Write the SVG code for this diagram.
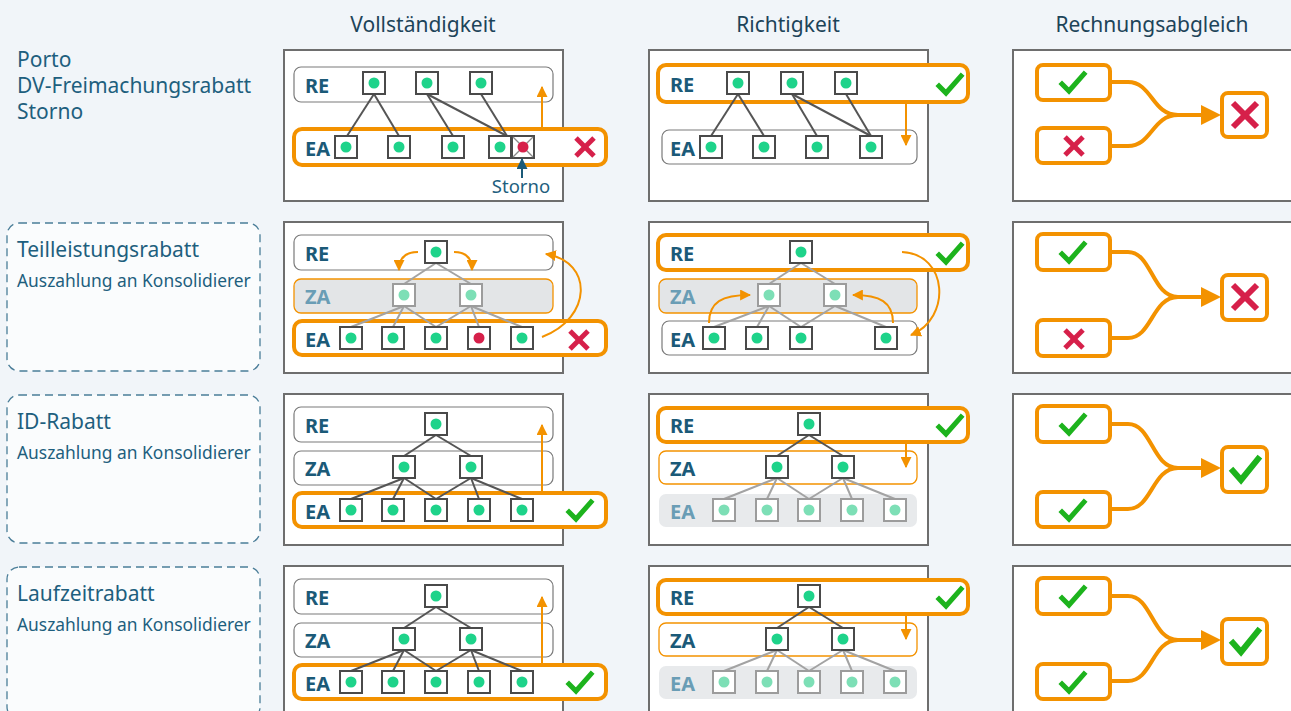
<svg xmlns="http://www.w3.org/2000/svg" xmlns:xlink="http://www.w3.org/1999/xlink" width="1291" height="711" viewBox="0 0 1291 711">
<style>
.t{font-family:"Noto Sans","Open Sans",sans-serif;fill:#1e5f7e}
.h{font-family:"Noto Sans","Open Sans",sans-serif;fill:#1d4459;font-size:21px;text-anchor:middle}
.panel{fill:#fff;stroke:#6e6e6e;stroke-width:2}
.lane{fill:#fff;stroke:#7a7a7a;stroke-width:1.2}
.hl{fill:#fff;stroke:#f39200;stroke-width:4}
.zag{fill:#e3e5e7;stroke:#f39200;stroke-width:1.3}
.zaw{fill:#fff;stroke:#f39200;stroke-width:1.3}
.eag{fill:#e8eaec}
.lbl{font-family:"Noto Sans","Open Sans",sans-serif;font-weight:bold;font-size:20px;fill:#1b5a78}
.lblm{fill:#6a9db5}
.ln{stroke:#555;stroke-width:2;fill:none}
.lnl{stroke:#a3a3a3;stroke-width:2;fill:none}
.oa{stroke:#f39200;stroke-width:2;fill:none}
.ob{stroke:#f39200;stroke-width:4;fill:none}
.obox{fill:#fff;stroke:#f39200;stroke-width:4}
.chk{stroke:#1db31d;stroke-width:5;fill:none;stroke-linecap:square}
.x{stroke:#d6204a;stroke-width:5;stroke-linecap:butt}
.lab{fill:#fafcfd;stroke:#4a7d98;stroke-width:1.3;stroke-dasharray:8 5}
</style>
<defs>
<marker id="ah" viewBox="0 0 10 10" refX="9" refY="5" markerWidth="11" markerHeight="11" markerUnits="userSpaceOnUse" orient="auto"><path d="M0,0 L10,5 L0,10 z" fill="#f39200"/></marker>
<marker id="ahd" viewBox="0 0 10 10" refX="9" refY="5" markerWidth="11" markerHeight="11" markerUnits="userSpaceOnUse" orient="auto"><path d="M0,0 L10,5 L0,10 z" fill="#1b5a78"/></marker>
<g id="n"><rect x="-11" y="-11" width="22" height="22" fill="#fff" stroke="#4a4a4a" stroke-width="2"/><circle r="5.5" fill="#1ed38a"/></g>
<g id="nr"><rect x="-11" y="-11" width="22" height="22" fill="#fff" stroke="#4a4a4a" stroke-width="2"/><circle r="5.5" fill="#d6204a"/></g>
<g id="nf"><rect x="-11" y="-11" width="22" height="22" fill="#fff" stroke="#9c9c9c" stroke-width="2"/><circle r="5.5" fill="#7ddfb6"/></g>
<path id="ck" d="M-11,1 L-4,8 L11,-9" class="chk"/>
<path id="ckb" d="M-12,1 L-4,10 L13,-11" class="chk" style="stroke-width:6"/>
<g id="xx"><line x1="-9" y1="-9" x2="9" y2="9" class="x"/><line x1="9" y1="-9" x2="-9" y2="9" class="x"/></g>
<g id="xb"><line x1="-12" y1="-12" x2="12" y2="12" class="x" style="stroke-width:6"/><line x1="12" y1="-12" x2="-12" y2="12" class="x" style="stroke-width:6"/></g>
</defs>
<rect width="1291" height="711" fill="#f1f5f9"/>

<g id="headers">
<text class="h" x="423" y="32">Vollständigkeit</text>
<text class="h" x="788" y="32">Richtigkeit</text>
<text class="h" x="1152" y="32">Rechnungsabgleich</text>
</g>

<g id="label-row1">
<text class="t" x="17" y="67" font-size="21">Porto</text>
<text class="t" x="17" y="93" font-size="21">DV-Freimachungsrabatt</text>
<text class="t" x="17" y="119" font-size="21">Storno</text>
</g>
<g id="label-row2">
<rect class="lab" x="7" y="223" width="253" height="148" rx="12"/>
<text class="t" x="17" y="257" font-size="21">Teilleistungsrabatt</text>
<text class="t" x="17" y="287" font-size="17.4">Auszahlung an Konsolidierer</text>
</g>
<g id="label-row3">
<rect class="lab" x="7" y="395" width="253" height="148" rx="12"/>
<text class="t" x="17" y="429" font-size="21">ID-Rabatt</text>
<text class="t" x="17" y="459" font-size="17.4">Auszahlung an Konsolidierer</text>
</g>
<g id="label-row4">
<rect class="lab" x="7" y="567" width="253" height="152" rx="12"/>
<text class="t" x="17" y="601" font-size="21">Laufzeitrabatt</text>
<text class="t" x="17" y="631" font-size="17.4">Auszahlung an Konsolidierer</text>
</g>

<!-- Row 1 -->
<g id="r1-voll">
<rect class="panel" x="284" y="50" width="279" height="151"/>
<rect class="lane" x="294" y="67" width="259" height="35" rx="7"/>
<text class="lbl" x="305" y="93">RE</text>
<rect class="hl" x="294" y="129" width="312" height="36" rx="8"/>
<text class="lbl" x="305" y="156">EA</text>
<g class="ln">
<line x1="374" y1="94" x2="347" y2="136"/><line x1="374" y1="94" x2="399" y2="136"/>
<line x1="427" y1="94" x2="453" y2="136"/><line x1="427" y1="94" x2="507" y2="136"/>
<line x1="481" y1="94" x2="507" y2="136"/>
</g>
<use href="#n" x="374" y="83"/><use href="#n" x="427" y="83"/><use href="#n" x="481" y="83"/>
<use href="#n" x="346" y="147"/><use href="#n" x="399" y="147"/><use href="#n" x="453" y="147"/><use href="#n" x="500" y="147"/>
<g id="storno-node">
<rect x="512" y="136" width="22" height="22" fill="#fff" stroke="#4a4a4a" stroke-width="2"/>
<line x1="513" y1="137" x2="533" y2="157" stroke="#8a8a8a" stroke-width="1.2"/><line x1="533" y1="137" x2="513" y2="157" stroke="#8a8a8a" stroke-width="1.2"/>
<circle cx="523" cy="147" r="5.5" fill="#d6204a"/>
</g>
<line x1="522" y1="178" x2="522" y2="159" stroke="#1b5a78" stroke-width="2" marker-end="url(#ahd)"/>
<text class="t" x="521" y="193" font-size="18.5" text-anchor="middle">Storno</text>
<line class="oa" x1="542" y1="129" x2="542" y2="87" marker-end="url(#ah)"/>
<use href="#xx" x="585" y="147"/>
</g>

<g id="r1-richt">
<rect class="panel" x="649" y="50" width="279" height="151"/>
<rect class="hl" x="658" y="65" width="310" height="37" rx="8"/>
<text class="lbl" x="670" y="92">RE</text>
<rect class="lane" x="662" y="130" width="255" height="34" rx="7"/>
<text class="lbl" x="670" y="156">EA</text>
<g class="ln">
<line x1="738" y1="94" x2="711" y2="136"/><line x1="738" y1="94" x2="764" y2="136"/>
<line x1="792" y1="94" x2="817" y2="136"/><line x1="792" y1="94" x2="871" y2="136"/>
<line x1="846" y1="94" x2="871" y2="136"/>
</g>
<use href="#n" x="738" y="83"/><use href="#n" x="792" y="83"/><use href="#n" x="846" y="83"/>
<use href="#n" x="711" y="147"/><use href="#n" x="764" y="147"/><use href="#n" x="817" y="147"/><use href="#n" x="871" y="147"/>
<line class="oa" x1="906" y1="102" x2="906" y2="145" marker-end="url(#ah)"/>
<use href="#ck" x="950" y="85"/>
</g>

<g id="r1-abgl">
<rect class="panel" x="1013" y="50" width="282" height="151"/>
<g class="ob"><path d="M1110,82 H1128 C1152,82 1152,115 1178,115"/><path d="M1110,146 H1128 C1152,146 1152,115 1178,115"/><path d="M1176,115 H1204"/></g>
<polygon points="1201,105 1221,115 1201,125" fill="#f39200"/>
<rect class="obox" x="1037" y="65" width="73" height="35" rx="6"/>
<rect class="obox" x="1037" y="128" width="73" height="35" rx="6"/>
<rect class="obox" x="1222" y="93" width="45" height="44" rx="6"/>
<use href="#ck" x="1073" y="83"/>
<use href="#xx" x="1074" y="146"/>
<use href="#xb" x="1245" y="115"/>
</g>

<!-- Row 2 -->
<g id="r2-voll">
<rect class="panel" x="284" y="222" width="279" height="151"/>
<rect class="lane" x="294" y="235" width="259" height="35" rx="7"/>
<text class="lbl" x="305" y="261">RE</text>
<rect class="zag" x="294" y="279" width="259" height="34" rx="7"/>
<text class="lbl lblm" x="305" y="304">ZA</text>
<rect class="hl" x="294" y="321" width="312" height="34" rx="8"/>
<text class="lbl" x="305" y="347">EA</text>
<g class="lnl">
<line x1="436" y1="263" x2="404" y2="284"/><line x1="436" y1="263" x2="471" y2="284"/>
<line x1="404" y1="306" x2="351" y2="327"/><line x1="404" y1="306" x2="393" y2="327"/><line x1="404" y1="306" x2="436" y2="327"/>
<line x1="471" y1="306" x2="436" y2="327"/><line x1="471" y1="306" x2="479" y2="327"/><line x1="471" y1="306" x2="522" y2="327"/>
</g>
<use href="#n" x="436" y="252"/>
<use href="#nf" x="404" y="295"/><use href="#nf" x="471" y="295"/>
<use href="#n" x="351" y="338"/><use href="#n" x="393" y="338"/><use href="#n" x="436" y="338"/><use href="#nr" x="479" y="338"/><use href="#n" x="522" y="338"/>
<path class="oa" d="M418,252 C405,252 399,259 399,270" marker-end="url(#ah)"/>
<path class="oa" d="M454,252 C467,252 472,259 472,270" marker-end="url(#ah)"/>
<path class="oa" d="M542,337 C592,318 594,262 546,254" marker-end="url(#ah)"/>
<use href="#xx" x="579" y="340"/>
</g>

<g id="r2-richt">
<rect class="panel" x="649" y="222" width="279" height="151"/>
<rect class="hl" x="658" y="235" width="310" height="35" rx="8"/>
<text class="lbl" x="670" y="261">RE</text>
<rect class="zag" x="659" y="279" width="258" height="34" rx="7"/>
<text class="lbl lblm" x="670" y="304">ZA</text>
<rect class="lane" x="662" y="321" width="255" height="34" rx="7"/>
<text class="lbl" x="670" y="347">EA</text>
<g class="lnl">
<line x1="801" y1="263" x2="769" y2="284"/><line x1="801" y1="263" x2="835" y2="284"/>
<line x1="769" y1="306" x2="714" y2="327"/><line x1="769" y1="306" x2="757" y2="327"/><line x1="769" y1="306" x2="801" y2="327"/>
<line x1="835" y1="306" x2="801" y2="327"/><line x1="835" y1="306" x2="886" y2="327"/>
</g>
<use href="#n" x="801" y="252"/>
<use href="#nf" x="769" y="295"/><use href="#nf" x="835" y="295"/>
<use href="#n" x="714" y="338"/><use href="#n" x="757" y="338"/><use href="#n" x="801" y="338"/><use href="#n" x="886" y="338"/>
<path class="oa" d="M709,323 C709,302 722,295 750,295" marker-end="url(#ah)"/>
<path class="oa" d="M893,323 C893,302 880,295 853,295" marker-end="url(#ah)"/>
<path class="oa" d="M902,252 C948,254 952,318 911,335" marker-end="url(#ah)"/>
<use href="#ck" x="950" y="254"/>
</g>

<g id="r2-abgl">
<rect class="panel" x="1013" y="222" width="282" height="151"/>
<g class="ob"><path d="M1110,252 H1128 C1152,252 1152,297 1178,297"/><path d="M1110,338 H1128 C1152,338 1152,297 1178,297"/><path d="M1176,297 H1204"/></g>
<polygon points="1201,287 1221,297 1201,307" fill="#f39200"/>
<rect class="obox" x="1037" y="234" width="73" height="36" rx="6"/>
<rect class="obox" x="1037" y="320" width="73" height="36" rx="6"/>
<rect class="obox" x="1222" y="275" width="45" height="45" rx="6"/>
<use href="#ck" x="1073" y="253"/>
<use href="#xx" x="1074" y="339"/>
<use href="#xb" x="1245" y="297"/>
</g>

<!-- Row 3 -->
<g id="r3-voll">
<rect class="panel" x="284" y="394" width="279" height="151"/>
<rect class="lane" x="294" y="407" width="259" height="35" rx="7"/>
<text class="lbl" x="305" y="433">RE</text>
<rect class="lane" x="294" y="451" width="259" height="34" rx="7"/>
<text class="lbl" x="305" y="476">ZA</text>
<rect class="hl" x="294" y="493" width="312" height="34" rx="8"/>
<text class="lbl" x="305" y="519">EA</text>
<g class="ln">
<line x1="436" y1="435" x2="404" y2="456"/><line x1="436" y1="435" x2="471" y2="456"/>
<line x1="404" y1="478" x2="351" y2="499"/><line x1="404" y1="478" x2="393" y2="499"/><line x1="404" y1="478" x2="436" y2="499"/>
<line x1="471" y1="478" x2="436" y2="499"/><line x1="471" y1="478" x2="479" y2="499"/><line x1="471" y1="478" x2="522" y2="499"/>
</g>
<use href="#n" x="436" y="424"/>
<use href="#n" x="404" y="467"/><use href="#n" x="471" y="467"/>
<use href="#n" x="351" y="510"/><use href="#n" x="393" y="510"/><use href="#n" x="436" y="510"/><use href="#n" x="479" y="510"/><use href="#n" x="522" y="510"/>
<line class="oa" x1="542" y1="493" x2="542" y2="425" marker-end="url(#ah)"/>
<use href="#ck" x="580" y="511"/>
</g>

<g id="r3-richt">
<rect class="panel" x="649" y="394" width="279" height="151"/>
<rect class="hl" x="658" y="408" width="310" height="34" rx="8"/>
<text class="lbl" x="670" y="433">RE</text>
<rect class="zaw" x="659" y="451" width="258" height="33" rx="7"/>
<text class="lbl" x="670" y="476">ZA</text>
<rect class="eag" x="659" y="494" width="258" height="33" rx="7"/>
<text class="lbl lblm" x="670" y="519">EA</text>
<g class="ln">
<line x1="809" y1="435" x2="777" y2="456"/><line x1="809" y1="435" x2="843" y2="456"/>
</g>
<g class="lnl">
<line x1="777" y1="478" x2="724" y2="499"/><line x1="777" y1="478" x2="767" y2="499"/><line x1="777" y1="478" x2="809" y2="499"/>
<line x1="843" y1="478" x2="809" y2="499"/><line x1="843" y1="478" x2="852" y2="499"/><line x1="843" y1="478" x2="895" y2="499"/>
</g>
<use href="#n" x="809" y="424"/>
<use href="#n" x="777" y="467"/><use href="#n" x="843" y="467"/>
<use href="#nf" x="724" y="510"/><use href="#nf" x="767" y="510"/><use href="#nf" x="809" y="510"/><use href="#nf" x="852" y="510"/><use href="#nf" x="895" y="510"/>
<line class="oa" x1="906" y1="442" x2="906" y2="467" marker-end="url(#ah)"/>
<use href="#ck" x="950" y="426"/>
</g>

<g id="r3-abgl">
<rect class="panel" x="1013" y="394" width="282" height="151"/>
<g class="ob"><path d="M1110,424 H1128 C1152,424 1152,468 1178,468"/><path d="M1110,509 H1128 C1152,509 1152,468 1178,468"/><path d="M1176,468 H1204"/></g>
<polygon points="1201,458 1221,468 1201,478" fill="#f39200"/>
<rect class="obox" x="1037" y="406" width="73" height="36" rx="6"/>
<rect class="obox" x="1037" y="492" width="73" height="35" rx="6"/>
<rect class="obox" x="1222" y="447" width="45" height="45" rx="6"/>
<use href="#ck" x="1073" y="425"/>
<use href="#ck" x="1073" y="511"/>
<use href="#ckb" x="1245" y="470"/>
</g>

<!-- Row 4 -->
<g id="r4-voll" transform="translate(0,172)">
<rect class="panel" x="284" y="394" width="279" height="160"/>
<rect class="lane" x="294" y="407" width="259" height="35" rx="7"/>
<text class="lbl" x="305" y="433">RE</text>
<rect class="lane" x="294" y="451" width="259" height="34" rx="7"/>
<text class="lbl" x="305" y="476">ZA</text>
<rect class="hl" x="294" y="493" width="312" height="34" rx="8"/>
<text class="lbl" x="305" y="519">EA</text>
<g class="ln">
<line x1="436" y1="435" x2="404" y2="456"/><line x1="436" y1="435" x2="471" y2="456"/>
<line x1="404" y1="478" x2="351" y2="499"/><line x1="404" y1="478" x2="393" y2="499"/><line x1="404" y1="478" x2="436" y2="499"/>
<line x1="471" y1="478" x2="436" y2="499"/><line x1="471" y1="478" x2="479" y2="499"/><line x1="471" y1="478" x2="522" y2="499"/>
</g>
<use href="#n" x="436" y="424"/>
<use href="#n" x="404" y="467"/><use href="#n" x="471" y="467"/>
<use href="#n" x="351" y="510"/><use href="#n" x="393" y="510"/><use href="#n" x="436" y="510"/><use href="#n" x="479" y="510"/><use href="#n" x="522" y="510"/>
<line class="oa" x1="542" y1="493" x2="542" y2="425" marker-end="url(#ah)"/>
<use href="#ck" x="580" y="511"/>
</g>

<g id="r4-richt" transform="translate(0,172)">
<rect class="panel" x="649" y="394" width="279" height="160"/>
<rect class="hl" x="658" y="408" width="310" height="34" rx="8"/>
<text class="lbl" x="670" y="433">RE</text>
<rect class="zaw" x="659" y="451" width="258" height="33" rx="7"/>
<text class="lbl" x="670" y="476">ZA</text>
<rect class="eag" x="659" y="494" width="258" height="33" rx="7"/>
<text class="lbl lblm" x="670" y="519">EA</text>
<g class="ln">
<line x1="809" y1="435" x2="777" y2="456"/><line x1="809" y1="435" x2="843" y2="456"/>
</g>
<g class="lnl">
<line x1="777" y1="478" x2="724" y2="499"/><line x1="777" y1="478" x2="767" y2="499"/><line x1="777" y1="478" x2="809" y2="499"/>
<line x1="843" y1="478" x2="809" y2="499"/><line x1="843" y1="478" x2="852" y2="499"/><line x1="843" y1="478" x2="895" y2="499"/>
</g>
<use href="#n" x="809" y="424"/>
<use href="#n" x="777" y="467"/><use href="#n" x="843" y="467"/>
<use href="#nf" x="724" y="510"/><use href="#nf" x="767" y="510"/><use href="#nf" x="809" y="510"/><use href="#nf" x="852" y="510"/><use href="#nf" x="895" y="510"/>
<line class="oa" x1="906" y1="442" x2="906" y2="467" marker-end="url(#ah)"/>
<use href="#ck" x="950" y="426"/>
</g>

<g id="r4-abgl" transform="translate(0,172)">
<rect class="panel" x="1013" y="394" width="282" height="160"/>
<g class="ob"><path d="M1110,424 H1128 C1152,424 1152,468 1178,468"/><path d="M1110,509 H1128 C1152,509 1152,468 1178,468"/><path d="M1176,468 H1204"/></g>
<polygon points="1201,458 1221,468 1201,478" fill="#f39200"/>
<rect class="obox" x="1037" y="406" width="73" height="36" rx="6"/>
<rect class="obox" x="1037" y="492" width="73" height="35" rx="6"/>
<rect class="obox" x="1222" y="447" width="45" height="45" rx="6"/>
<use href="#ck" x="1073" y="425"/>
<use href="#ck" x="1073" y="511"/>
<use href="#ckb" x="1245" y="470"/>
</g>
</svg>
